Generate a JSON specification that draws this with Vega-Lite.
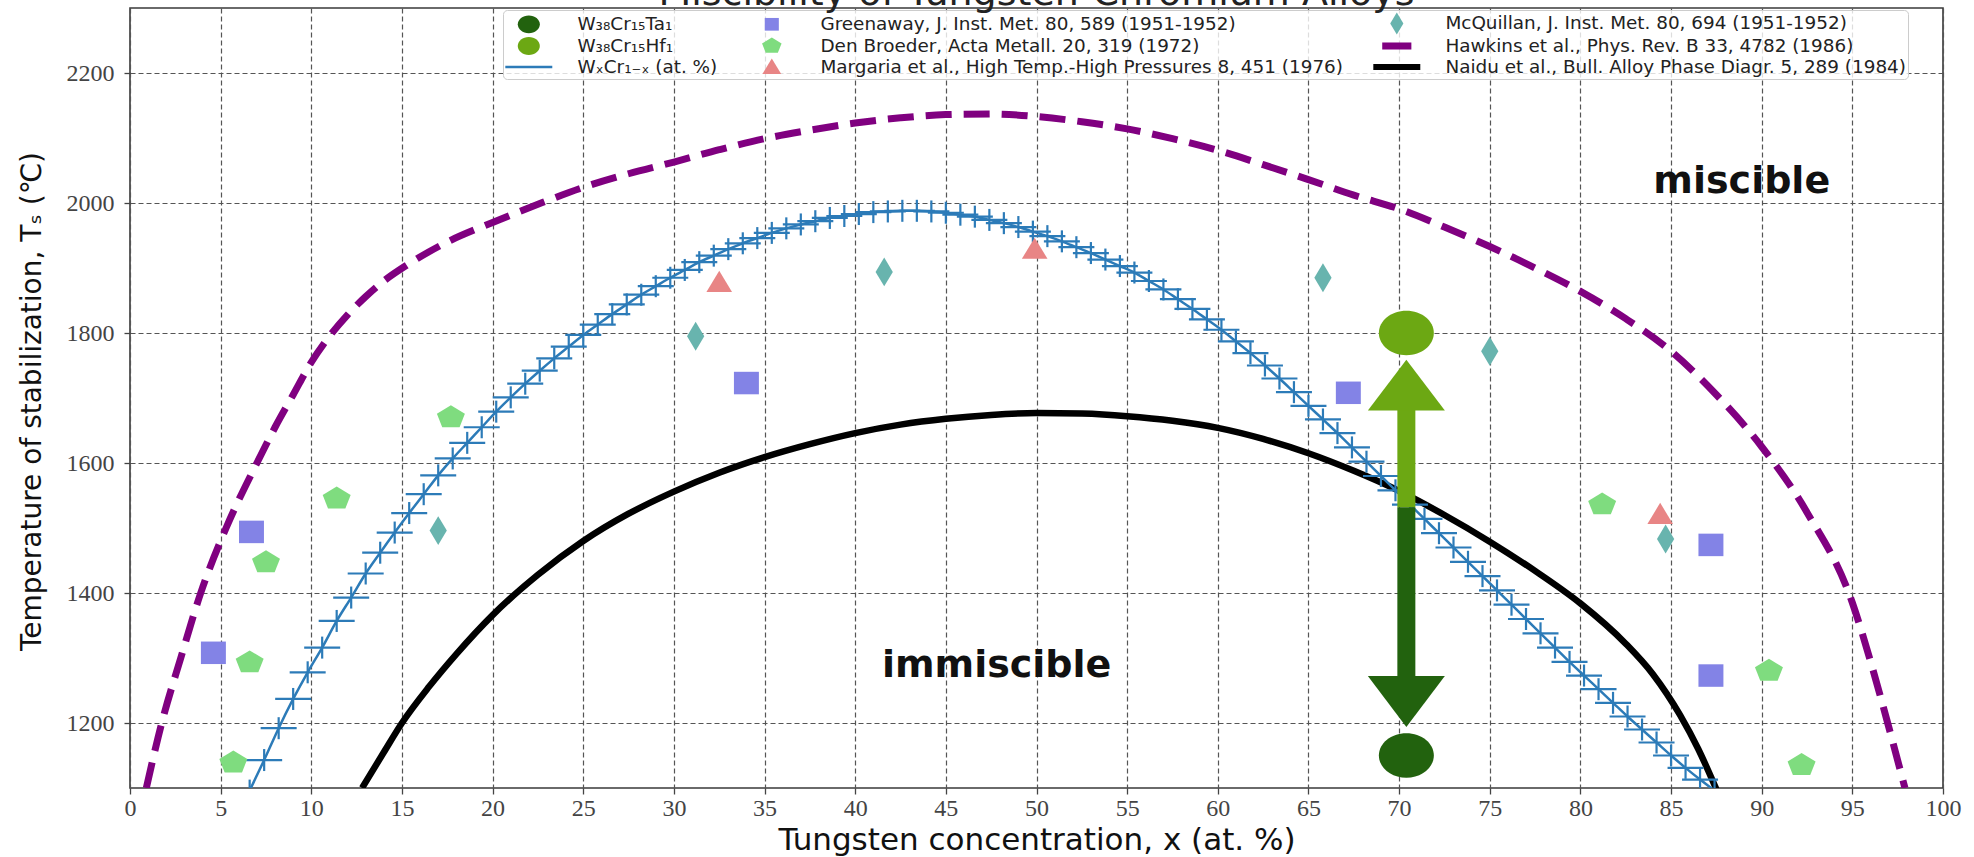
{
  "$schema": "https://vega.github.io/schema/vega-lite/v6.json",
  "width": 1813,
  "height": 780,
  "autosize": {"type": "none"},
  "padding": {"left": 130, "top": 8, "right": 31, "bottom": 69},
  "background": "white",
  "title": {
    "text": "Miscibility of Tungsten-Chromium Alloys",
    "anchor": "middle",
    "font": "DejaVu Sans",
    "fontSize": 38,
    "fontWeight": "normal",
    "color": "#222222",
    "baseline": "alphabetic",
    "offset": -35
  },
  "config": {
    "view": {"stroke": "#3a3a3a", "strokeWidth": 1.6},
    "axis": {
      "domain": false,
      "grid": true,
      "gridColor": "#555555",
      "gridDash": [5, 3],
      "gridWidth": 1.2,
      "gridOpacity": 1,
      "tickColor": "#444444",
      "tickSize": 6,
      "tickWidth": 1.3,
      "labelFont": "Liberation Serif",
      "labelFontSize": 24,
      "labelColor": "#444444",
      "labelFlush": false,
      "labelOverlap": false,
      "format": "d",
      "titleFont": "DejaVu Sans",
      "titleFontWeight": "normal",
      "titleColor": "#111111"
    },
    "axisX": {"labelPadding": 2, "titleFontSize": 31, "titleX": 906.5, "titleY": 61, "titleBaseline": "alphabetic", "titleAlign": "center"},
    "axisY": {"labelPadding": 10, "titleFontSize": 28, "titleAngle": 270, "titleX": -98, "titleY": 393, "titleBaseline": "middle", "titleAlign": "center"}
  },
  "datasets": {
    "hawkins": [
      {"x": 0.9, "T": 1100}, {"x": 1.75, "T": 1200}, {"x": 2.8, "T": 1300}, {"x": 3.9, "T": 1400},
      {"x": 5.3, "T": 1500}, {"x": 7.0, "T": 1600}, {"x": 8.0, "T": 1655}, {"x": 9.0, "T": 1705},
      {"x": 10.0, "T": 1755}, {"x": 11.0, "T": 1795}, {"x": 12.0, "T": 1828}, {"x": 13.0, "T": 1856},
      {"x": 14.0, "T": 1880}, {"x": 15.3, "T": 1905}, {"x": 17.5, "T": 1940}, {"x": 20, "T": 1970},
      {"x": 22.5, "T": 1998}, {"x": 25, "T": 2024}, {"x": 27.5, "T": 2045}, {"x": 30, "T": 2063},
      {"x": 32.5, "T": 2082}, {"x": 35, "T": 2099}, {"x": 37.5, "T": 2112}, {"x": 40, "T": 2123},
      {"x": 42.5, "T": 2131}, {"x": 45, "T": 2136}, {"x": 47.5, "T": 2137}, {"x": 50, "T": 2133},
      {"x": 52.5, "T": 2125}, {"x": 55, "T": 2114}, {"x": 57.5, "T": 2099}, {"x": 60, "T": 2081},
      {"x": 62.5, "T": 2059}, {"x": 65, "T": 2036}, {"x": 67.5, "T": 2012}, {"x": 70, "T": 1991},
      {"x": 72.5, "T": 1963}, {"x": 75, "T": 1933}, {"x": 77.5, "T": 1900}, {"x": 80, "T": 1864},
      {"x": 82.5, "T": 1822}, {"x": 85, "T": 1772}, {"x": 87.5, "T": 1705}, {"x": 90, "T": 1625},
      {"x": 92.5, "T": 1524}, {"x": 95, "T": 1385}, {"x": 96, "T": 1295}, {"x": 96.9, "T": 1205},
      {"x": 97.9, "T": 1100}
    ],
    "naidu": [
      {"x": 12.8, "T": 1100}, {"x": 14, "T": 1155}, {"x": 15, "T": 1200}, {"x": 16.5, "T": 1256},
      {"x": 18, "T": 1306}, {"x": 20, "T": 1366}, {"x": 22.5, "T": 1428}, {"x": 25, "T": 1480},
      {"x": 27.5, "T": 1522}, {"x": 30, "T": 1556}, {"x": 32.5, "T": 1585}, {"x": 35, "T": 1609},
      {"x": 37.5, "T": 1629}, {"x": 40, "T": 1646}, {"x": 42.5, "T": 1659}, {"x": 45, "T": 1668},
      {"x": 47.5, "T": 1674}, {"x": 50, "T": 1677}, {"x": 52.5, "T": 1676}, {"x": 55, "T": 1672},
      {"x": 57.5, "T": 1665}, {"x": 60, "T": 1654}, {"x": 62.5, "T": 1637}, {"x": 65, "T": 1615},
      {"x": 67.5, "T": 1588}, {"x": 70, "T": 1557}, {"x": 72.5, "T": 1520}, {"x": 75, "T": 1479},
      {"x": 77.5, "T": 1434}, {"x": 80, "T": 1384}, {"x": 82.5, "T": 1322}, {"x": 84, "T": 1275},
      {"x": 85.5, "T": 1212}, {"x": 86.5, "T": 1160}, {"x": 87.5, "T": 1098}
    ],
    "wcr": [
      {"x": 6.6, "T": 1096}, {"x": 7.4, "T": 1143}, {"x": 8.2, "T": 1192}, {"x": 9.0, "T": 1237},
      {"x": 9.8, "T": 1278}, {"x": 10.6, "T": 1316}, {"x": 11.4, "T": 1357}, {"x": 12.2, "T": 1393},
      {"x": 13.0, "T": 1430}, {"x": 13.8, "T": 1462}, {"x": 14.6, "T": 1493}, {"x": 15.4, "T": 1523},
      {"x": 16.2, "T": 1552}, {"x": 17.0, "T": 1581}, {"x": 17.8, "T": 1607}, {"x": 18.6, "T": 1631},
      {"x": 19.4, "T": 1655}, {"x": 20.2, "T": 1679}, {"x": 21.0, "T": 1701}, {"x": 21.8, "T": 1722},
      {"x": 22.6, "T": 1742}, {"x": 23.4, "T": 1761}, {"x": 24.2, "T": 1779}, {"x": 25.0, "T": 1797},
      {"x": 25.8, "T": 1813}, {"x": 26.6, "T": 1829}, {"x": 27.4, "T": 1844}, {"x": 28.2, "T": 1859},
      {"x": 29.0, "T": 1872}, {"x": 29.8, "T": 1885}, {"x": 30.6, "T": 1897}, {"x": 31.4, "T": 1909},
      {"x": 32.2, "T": 1919}, {"x": 33.0, "T": 1929}, {"x": 33.8, "T": 1938}, {"x": 34.6, "T": 1946},
      {"x": 35.4, "T": 1954}, {"x": 36.2, "T": 1961}, {"x": 37.0, "T": 1967}, {"x": 37.8, "T": 1972},
      {"x": 38.6, "T": 1977}, {"x": 39.4, "T": 1980}, {"x": 40.2, "T": 1983}, {"x": 41.0, "T": 1986},
      {"x": 41.8, "T": 1987}, {"x": 42.6, "T": 1988}, {"x": 43.4, "T": 1988}, {"x": 44.2, "T": 1987},
      {"x": 45.0, "T": 1985}, {"x": 45.8, "T": 1982}, {"x": 46.6, "T": 1979}, {"x": 47.4, "T": 1974},
      {"x": 48.2, "T": 1969}, {"x": 49.0, "T": 1963}, {"x": 49.8, "T": 1956}, {"x": 50.6, "T": 1949},
      {"x": 51.4, "T": 1941}, {"x": 52.2, "T": 1932}, {"x": 53.0, "T": 1923}, {"x": 53.8, "T": 1913},
      {"x": 54.6, "T": 1903}, {"x": 55.4, "T": 1893}, {"x": 56.2, "T": 1880}, {"x": 57.0, "T": 1867},
      {"x": 57.8, "T": 1852}, {"x": 58.6, "T": 1837}, {"x": 59.4, "T": 1821}, {"x": 60.2, "T": 1805},
      {"x": 61.0, "T": 1787}, {"x": 61.8, "T": 1769}, {"x": 62.6, "T": 1750}, {"x": 63.4, "T": 1730},
      {"x": 64.2, "T": 1709}, {"x": 65.0, "T": 1688}, {"x": 65.8, "T": 1667}, {"x": 66.6, "T": 1646},
      {"x": 67.4, "T": 1624}, {"x": 68.2, "T": 1602}, {"x": 69.0, "T": 1580}, {"x": 69.8, "T": 1558},
      {"x": 70.6, "T": 1536}, {"x": 71.4, "T": 1514}, {"x": 72.2, "T": 1492}, {"x": 73.0, "T": 1470},
      {"x": 73.8, "T": 1448}, {"x": 74.6, "T": 1426}, {"x": 75.4, "T": 1404}, {"x": 76.2, "T": 1382},
      {"x": 77.0, "T": 1360}, {"x": 77.8, "T": 1338}, {"x": 78.6, "T": 1316}, {"x": 79.4, "T": 1294},
      {"x": 80.2, "T": 1273}, {"x": 81.0, "T": 1252}, {"x": 81.8, "T": 1231}, {"x": 82.6, "T": 1210},
      {"x": 83.4, "T": 1190}, {"x": 84.2, "T": 1170}, {"x": 85.0, "T": 1150}, {"x": 85.8, "T": 1131},
      {"x": 86.6, "T": 1113}, {"x": 87.4, "T": 1096}
    ],
    "points": [
      {"series": "Greenaway, J. Inst. Met. 80, 589 (1951-1952)", "x": 4.6, "T": 1308},
      {"series": "Greenaway, J. Inst. Met. 80, 589 (1951-1952)", "x": 6.7, "T": 1494},
      {"series": "Greenaway, J. Inst. Met. 80, 589 (1951-1952)", "x": 34.0, "T": 1723},
      {"series": "Greenaway, J. Inst. Met. 80, 589 (1951-1952)", "x": 67.2, "T": 1708},
      {"series": "Greenaway, J. Inst. Met. 80, 589 (1951-1952)", "x": 87.2, "T": 1474},
      {"series": "Greenaway, J. Inst. Met. 80, 589 (1951-1952)", "x": 87.2, "T": 1273},
      {"series": "Den Broeder, Acta Metall. 20, 319 (1972)", "x": 5.7, "T": 1139},
      {"series": "Den Broeder, Acta Metall. 20, 319 (1972)", "x": 6.6, "T": 1293},
      {"series": "Den Broeder, Acta Metall. 20, 319 (1972)", "x": 7.5, "T": 1447},
      {"series": "Den Broeder, Acta Metall. 20, 319 (1972)", "x": 11.4, "T": 1545},
      {"series": "Den Broeder, Acta Metall. 20, 319 (1972)", "x": 17.7, "T": 1670},
      {"series": "Den Broeder, Acta Metall. 20, 319 (1972)", "x": 81.2, "T": 1536},
      {"series": "Den Broeder, Acta Metall. 20, 319 (1972)", "x": 90.4, "T": 1280},
      {"series": "Den Broeder, Acta Metall. 20, 319 (1972)", "x": 92.2, "T": 1135},
      {"series": "Margaria et al., High Temp.-High Pressures 8, 451 (1976)", "x": 32.5, "T": 1878},
      {"series": "Margaria et al., High Temp.-High Pressures 8, 451 (1976)", "x": 49.9, "T": 1929},
      {"series": "Margaria et al., High Temp.-High Pressures 8, 451 (1976)", "x": 84.4, "T": 1521},
      {"series": "McQuillan, J. Inst. Met. 80, 694 (1951-1952)", "x": 17.0, "T": 1496},
      {"series": "McQuillan, J. Inst. Met. 80, 694 (1951-1952)", "x": 31.2, "T": 1795},
      {"series": "McQuillan, J. Inst. Met. 80, 694 (1951-1952)", "x": 41.6, "T": 1894},
      {"series": "McQuillan, J. Inst. Met. 80, 694 (1951-1952)", "x": 65.8, "T": 1885},
      {"series": "McQuillan, J. Inst. Met. 80, 694 (1951-1952)", "x": 75.0, "T": 1772},
      {"series": "McQuillan, J. Inst. Met. 80, 694 (1951-1952)", "x": 84.7, "T": 1483},
      {"series": "W₃₈Cr₁₅Ta₁", "x": 70.4, "T": 1150},
      {"series": "W₃₈Cr₁₅Hf₁", "x": 70.4, "T": 1800}
    ],
    "arrows": [
      {"alloy": "Hf", "x": 70.4, "T": 1532, "T2": 1682, "tip": 1759},
      {"alloy": "Ta", "x": 70.4, "T": 1532, "T2": 1268, "tip": 1194}
    ],
    "labels": [
      {"x": 88.9, "T": 2032, "text": "miscible"},
      {"x": 47.8, "T": 1287, "text": "immiscible"}
    ]
  },
  "layer": [
    {
      "data": {"name": "hawkins"},
      "mark": {"type": "line", "color": "#800080", "strokeWidth": 7, "strokeDash": [26, 12], "interpolate": "monotone", "clip": true},
      "encoding": {
        "x": {
          "field": "x", "type": "quantitative",
          "scale": {"domain": [0, 100], "nice": false, "zero": false},
          "axis": {"values": [0, 5, 10, 15, 20, 25, 30, 35, 40, 45, 50, 55, 60, 65, 70, 75, 80, 85, 90, 95, 100], "title": "Tungsten concentration, x (at. %)"}
        },
        "y": {
          "field": "T", "type": "quantitative",
          "scale": {"domain": [1100, 2300], "nice": false, "zero": false},
          "axis": {"values": [1200, 1400, 1600, 1800, 2000, 2200], "title": "Temperature of stabilization, Tₛ (℃)"}
        }
      }
    },
    {
      "data": {"name": "naidu"},
      "mark": {"type": "line", "color": "#000000", "strokeWidth": 6.5, "interpolate": "monotone", "clip": true},
      "encoding": {
        "x": {"field": "x", "type": "quantitative"},
        "y": {"field": "T", "type": "quantitative"}
      }
    },
    {
      "data": {"name": "wcr"},
      "mark": {"type": "line", "color": "#2c7bb8", "strokeWidth": 2.5, "interpolate": "monotone", "clip": true},
      "encoding": {
        "x": {"field": "x", "type": "quantitative"},
        "y": {"field": "T", "type": "quantitative"}
      }
    },
    {
      "data": {"name": "wcr"},
      "mark": {"type": "tick", "orient": "horizontal", "size": 36, "thickness": 2.2, "color": "#2c7bb8", "opacity": 1, "clip": true},
      "encoding": {
        "x": {"field": "x", "type": "quantitative"},
        "y": {"field": "T", "type": "quantitative"}
      }
    },
    {
      "data": {"name": "wcr"},
      "mark": {"type": "tick", "orient": "vertical", "size": 22, "thickness": 2.2, "color": "#2c7bb8", "opacity": 1, "clip": true},
      "encoding": {
        "x": {"field": "x", "type": "quantitative"},
        "y": {"field": "T", "type": "quantitative"}
      }
    },
    {
      "data": {"name": "arrows"},
      "transform": [{"filter": {"field": "alloy", "equal": "Hf"}}],
      "mark": {"type": "rule", "color": "#6ca813", "strokeWidth": 18, "strokeCap": "butt"},
      "encoding": {
        "x": {"field": "x", "type": "quantitative"},
        "y": {"field": "T", "type": "quantitative"},
        "y2": {"field": "T2"}
      }
    },
    {
      "data": {"name": "arrows"},
      "transform": [{"filter": {"field": "alloy", "equal": "Ta"}}],
      "mark": {"type": "rule", "color": "#22620e", "strokeWidth": 18, "strokeCap": "butt"},
      "encoding": {
        "x": {"field": "x", "type": "quantitative"},
        "y": {"field": "T", "type": "quantitative"},
        "y2": {"field": "T2"}
      }
    },
    {
      "data": {"name": "arrows"},
      "transform": [{"filter": {"field": "alloy", "equal": "Hf"}}],
      "mark": {"type": "point", "shape": "M0,0L1,1.32L-1,1.32Z", "size": 5929, "filled": true, "color": "#6ca813", "opacity": 1},
      "encoding": {
        "x": {"field": "x", "type": "quantitative"},
        "y": {"field": "tip", "type": "quantitative"}
      }
    },
    {
      "data": {"name": "arrows"},
      "transform": [{"filter": {"field": "alloy", "equal": "Ta"}}],
      "mark": {"type": "point", "shape": "M0,0L1,-1.32L-1,-1.32Z", "size": 5929, "filled": true, "color": "#22620e", "opacity": 1},
      "encoding": {
        "x": {"field": "x", "type": "quantitative"},
        "y": {"field": "tip", "type": "quantitative"}
      }
    },
    {
      "data": {"name": "points"},
      "transform": [{"filter": {"field": "series", "equal": "Greenaway, J. Inst. Met. 80, 589 (1951-1952)"}}],
      "mark": {"type": "point", "filled": true, "opacity": 1, "size": 1440},
      "encoding": {
        "x": {"field": "x", "type": "quantitative"},
        "y": {"field": "T", "type": "quantitative"},
        "color": {
          "field": "series", "type": "nominal",
          "scale": {
            "domain": ["W₃₈Cr₁₅Ta₁", "W₃₈Cr₁₅Hf₁", "WₓCr₁₋ₓ (at. %)", "Greenaway, J. Inst. Met. 80, 589 (1951-1952)", "Den Broeder, Acta Metall. 20, 319 (1972)", "Margaria et al., High Temp.-High Pressures 8, 451 (1976)", "McQuillan, J. Inst. Met. 80, 694 (1951-1952)", "Hawkins et al., Phys. Rev. B 33, 4782 (1986)", "Naidu et al., Bull. Alloy Phase Diagr. 5, 289 (1984)"],
            "range": ["#22620e", "#6ca813", "#2c7bb8", "#8383e6", "#7fdc7f", "#e88585", "#68b4ae", "#800080", "#000000"]
          },
          "legend": {
            "title": null,
            "orient": "none",
            "legendX": 373,
            "legendY": 2,
            "columns": 3,
            "gridAlign": "each",
            "columnPadding": 30,
            "rowPadding": -3,
            "padding": 2,
            "symbolSize": 458,
            "symbolOffset": 12.8,
            "symbolStrokeWidth": 0,
            "labelFont": "DejaVu Sans",
            "labelFontSize": 18.4,
            "labelColor": "#222222",
            "labelLimit": 800,
            "labelOffset": 37.6,
            "fillColor": "rgba(255,255,255,0.8)",
            "strokeColor": "#cccccc",
            "cornerRadius": 4
          }
        },
        "shape": {
          "field": "series", "type": "nominal",
          "scale": {
            "domain": ["W₃₈Cr₁₅Ta₁", "W₃₈Cr₁₅Hf₁", "WₓCr₁₋ₓ (at. %)", "Greenaway, J. Inst. Met. 80, 589 (1951-1952)", "Den Broeder, Acta Metall. 20, 319 (1972)", "Margaria et al., High Temp.-High Pressures 8, 451 (1976)", "McQuillan, J. Inst. Met. 80, 694 (1951-1952)", "Hawkins et al., Phys. Rev. B 33, 4782 (1986)", "Naidu et al., Bull. Alloy Phase Diagr. 5, 289 (1984)"],
            "range": [
              "M-1.031,0A1.031,0.834,0,1,0,1.031,0A1.031,0.834,0,1,0,-1.031,0Z",
              "M-1.031,0A1.031,0.834,0,1,0,1.031,0A1.031,0.834,0,1,0,-1.031,0Z",
              "M-2.195,-0.12H2.195V0.12H-2.195Z",
              "M-0.658,-0.593H0.658V0.593H-0.658Z",
              "M0,-0.79L0.911,-0.241L0.565,0.636L-0.565,0.636L-0.911,-0.241Z",
              "M0,-0.79L0.878,0.658L-0.878,0.658Z",
              "M0,-1.031L0.615,0L0,1.031L-0.615,0Z",
              "M-1.362,-0.329H1.362V0.329H-1.362Z",
              "M-2.195,-0.286H2.195V0.286H-2.195Z"
            ]
          },
          "legend": {
            "title": null,
            "orient": "none",
            "legendX": 373,
            "legendY": 2,
            "columns": 3,
            "gridAlign": "each",
            "columnPadding": 30,
            "rowPadding": -3,
            "padding": 2,
            "symbolSize": 458,
            "symbolOffset": 12.8,
            "symbolStrokeWidth": 0,
            "labelFont": "DejaVu Sans",
            "labelFontSize": 18.4,
            "labelColor": "#222222",
            "labelLimit": 800,
            "labelOffset": 37.6,
            "fillColor": "rgba(255,255,255,0.8)",
            "strokeColor": "#cccccc",
            "cornerRadius": 4
          }
        }
      }
    },
    {
      "data": {"name": "points"},
      "transform": [{"filter": {"field": "series", "equal": "Den Broeder, Acta Metall. 20, 319 (1972)"}}],
      "mark": {"type": "point", "filled": true, "opacity": 1, "size": 943},
      "encoding": {
        "x": {"field": "x", "type": "quantitative"},
        "y": {"field": "T", "type": "quantitative"},
        "color": {"field": "series", "type": "nominal"},
        "shape": {"field": "series", "type": "nominal"}
      }
    },
    {
      "data": {"name": "points"},
      "transform": [{"filter": {"field": "series", "equal": "Margaria et al., High Temp.-High Pressures 8, 451 (1976)"}}],
      "mark": {"type": "point", "filled": true, "opacity": 1, "size": 850},
      "encoding": {
        "x": {"field": "x", "type": "quantitative"},
        "y": {"field": "T", "type": "quantitative"},
        "color": {"field": "series", "type": "nominal"},
        "shape": {"field": "series", "type": "nominal"}
      }
    },
    {
      "data": {"name": "points"},
      "transform": [{"filter": {"field": "series", "equal": "McQuillan, J. Inst. Met. 80, 694 (1951-1952)"}}],
      "mark": {"type": "point", "filled": true, "opacity": 1, "size": 787},
      "encoding": {
        "x": {"field": "x", "type": "quantitative"},
        "y": {"field": "T", "type": "quantitative"},
        "color": {"field": "series", "type": "nominal"},
        "shape": {"field": "series", "type": "nominal"}
      }
    },
    {
      "data": {"name": "points"},
      "transform": [{"filter": {"field": "series", "oneOf": ["W₃₈Cr₁₅Ta₁", "W₃₈Cr₁₅Hf₁"]}}],
      "mark": {"type": "point", "filled": true, "opacity": 1, "size": 2840},
      "encoding": {
        "x": {"field": "x", "type": "quantitative"},
        "y": {"field": "T", "type": "quantitative"},
        "color": {"field": "series", "type": "nominal"},
        "shape": {"field": "series", "type": "nominal"}
      }
    },
    {
      "data": {"name": "labels"},
      "mark": {"type": "text", "font": "DejaVu Sans", "fontSize": 38, "fontWeight": "bold", "color": "#111111", "align": "center", "baseline": "middle"},
      "encoding": {
        "x": {"field": "x", "type": "quantitative"},
        "y": {"field": "T", "type": "quantitative"},
        "text": {"field": "text"}
      }
    }
  ]
}
